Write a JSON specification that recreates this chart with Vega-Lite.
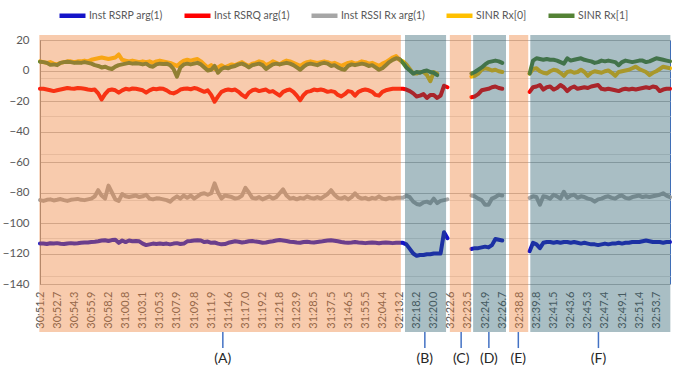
{
"$schema":"https://vega.github.io/schema/vega-lite/v6.json",
"width":630,"height":244,
"autosize":{"type":"none"},
"padding":{"left":40,"top":40,"right":8,"bottom":89},
"background":"white",
"config":{"font":"Lato","view":{"stroke":"#4472C4","strokeWidth":1}},
"datasets":{
"names":[{"k":"a","name":"Inst RSRP arg(1)"},{"k":"b","name":"Inst RSRQ arg(1)"},{"k":"c","name":"Inst RSSI Rx arg(1)"},{"k":"d","name":"SINR Rx[0]"},{"k":"e","name":"SINR Rx[1]"}],
"regions":[
{"r":"(A)","k":"o","x0":-0.2,"x1":105.4,"xm":53.4},
{"r":"(B)","k":"b","x0":106.6,"x1":118.6,"xm":112.4},
{"r":"(C)","k":"o","x0":119.7,"x1":125.9,"xm":123.0},
{"r":"(D)","k":"b","x0":126.5,"x1":136.1,"xm":131.1},
{"r":"(E)","k":"o","x0":137.0,"x1":142.6,"xm":139.7},
{"r":"(F)","k":"b","x0":143.2,"x1":184.1,"xm":163.1}],
"rows":[
{"t":"30:51.2","a":-113.5,"b":-12,"c":-85,"d":6,"e":5.8},
{"t":"30:51.5","a":-113.5,"b":-12,"c":-85.5,"d":5.5,"e":5.5},
{"t":"30:51.8","a":-113.8,"b":-12.5,"c":-84.8,"d":5,"e":5},
{"t":"30:52.1","a":-113.3,"b":-13,"c":-84.5,"d":5.5,"e":3.7},
{"t":"30:52.4","a":-113.5,"b":-13.5,"c":-85.2,"d":4.5,"e":4},
{"t":"30:52.7","a":-113.2,"b":-13,"c":-84.8,"d":4,"e":3.5},
{"t":"30:53.0","a":-113.6,"b":-12.5,"c":-84.3,"d":5,"e":5},
{"t":"30:53.3","a":-113.8,"b":-12,"c":-85,"d":5.5,"e":5.5},
{"t":"30:53.7","a":-113.4,"b":-11.5,"c":-85.5,"d":6,"e":5.8},
{"t":"30:54.0","a":-113.2,"b":-11.8,"c":-84.8,"d":6,"e":5.5},
{"t":"30:54.3","a":-113.5,"b":-12,"c":-84.5,"d":5.5,"e":5},
{"t":"30:54.6","a":-113.3,"b":-11.5,"c":-84.2,"d":6,"e":5.3},
{"t":"30:54.9","a":-113,"b":-11.7,"c":-84.8,"d":6,"e":5},
{"t":"30:55.3","a":-112.8,"b":-12,"c":-85,"d":6.5,"e":5.5},
{"t":"30:55.6","a":-112.8,"b":-12.5,"c":-84.5,"d":6,"e":5},
{"t":"30:55.9","a":-112.5,"b":-12.8,"c":-84,"d":7,"e":4.5},
{"t":"30:56.4","a":-112.3,"b":-12.5,"c":-82.5,"d":7.5,"e":3.5},
{"t":"30:56.8","a":-112,"b":-15,"c":-78.5,"d":8,"e":3},
{"t":"30:57.3","a":-111.5,"b":-19,"c":-82,"d":8.5,"e":2},
{"t":"30:57.7","a":-111.3,"b":-15.5,"c":-84,"d":8,"e":2.5},
{"t":"30:58.2","a":-111.8,"b":-13,"c":-75.5,"d":7.5,"e":1.5},
{"t":"30:58.7","a":-111.2,"b":-12.5,"c":-80,"d":8,"e":1},
{"t":"30:59.2","a":-111,"b":-13,"c":-84.5,"d":8.5,"e":2.5},
{"t":"30:59.8","a":-113,"b":-14.5,"c":-85.5,"d":10.5,"e":3.5},
{"t":"31:00.3","a":-111.5,"b":-13,"c":-81,"d":7,"e":4},
{"t":"31:00.8","a":-112.5,"b":-12,"c":-82.5,"d":6.5,"e":4.5},
{"t":"31:01.3","a":-111.5,"b":-12.5,"c":-83,"d":6,"e":5},
{"t":"31:01.7","a":-112,"b":-11.8,"c":-82.5,"d":6.5,"e":4.5},
{"t":"31:02.2","a":-111.8,"b":-12,"c":-82,"d":6,"e":4.8},
{"t":"31:02.6","a":-112,"b":-12.5,"c":-83,"d":5.5,"e":4.5},
{"t":"31:03.1","a":-113.5,"b":-13,"c":-82.5,"d":6,"e":4},
{"t":"31:03.5","a":-114.5,"b":-14.5,"c":-81.5,"d":5.5,"e":4.5},
{"t":"31:04.0","a":-114,"b":-13,"c":-84,"d":6,"e":3},
{"t":"31:04.4","a":-113.5,"b":-12,"c":-84.5,"d":5,"e":2.5},
{"t":"31:04.9","a":-113.8,"b":-12.3,"c":-83.8,"d":6,"e":4},
{"t":"31:05.3","a":-113.5,"b":-11.8,"c":-84,"d":6.5,"e":4.5},
{"t":"31:05.8","a":-113.8,"b":-12,"c":-84.5,"d":6,"e":4.3},
{"t":"31:06.3","a":-113.5,"b":-13,"c":-85,"d":5.5,"e":4.5},
{"t":"31:06.9","a":-114,"b":-14.5,"c":-86,"d":5,"e":3.5},
{"t":"31:07.4","a":-113.5,"b":-15,"c":-84,"d":4,"e":1},
{"t":"31:07.9","a":-113.2,"b":-14,"c":-82.5,"d":3,"e":-4},
{"t":"31:08.3","a":-113.8,"b":-12.5,"c":-84,"d":5,"e":2},
{"t":"31:08.7","a":-113.5,"b":-12,"c":-82,"d":6.5,"e":4},
{"t":"31:09.0","a":-112,"b":-11.8,"c":-83.5,"d":7,"e":4.5},
{"t":"31:09.4","a":-111.8,"b":-12.3,"c":-82,"d":6.5,"e":4},
{"t":"31:09.8","a":-111.5,"b":-11.5,"c":-84,"d":7,"e":4.5},
{"t":"31:10.2","a":-111.3,"b":-12,"c":-82.5,"d":7.5,"e":5},
{"t":"31:10.6","a":-111.5,"b":-13,"c":-81,"d":6,"e":4},
{"t":"31:11.1","a":-112.5,"b":-14,"c":-80.5,"d":4,"e":2},
{"t":"31:11.5","a":-112.2,"b":-13,"c":-81.5,"d":2,"e":0},
{"t":"31:11.9","a":-113,"b":-16,"c":-80.5,"d":3.5,"e":0.5},
{"t":"31:12.4","a":-112.8,"b":-20.5,"c":-74,"d":1,"e":3},
{"t":"31:13.0","a":-113.5,"b":-17,"c":-80,"d":2,"e":-1.5},
{"t":"31:13.5","a":-114,"b":-14,"c":-84,"d":3.5,"e":1},
{"t":"31:14.1","a":-113.8,"b":-13,"c":-82,"d":2,"e":2},
{"t":"31:14.6","a":-113,"b":-12.5,"c":-82.5,"d":3,"e":1.5},
{"t":"31:15.1","a":-112.5,"b":-13,"c":-83,"d":4,"e":2.5},
{"t":"31:15.6","a":-112,"b":-12.5,"c":-84,"d":3.5,"e":3},
{"t":"31:16.0","a":-112.3,"b":-14,"c":-83.5,"d":4.5,"e":4},
{"t":"31:16.5","a":-112.8,"b":-16,"c":-82,"d":5.5,"e":4.5},
{"t":"31:17.0","a":-112.5,"b":-17.5,"c":-77,"d":4,"e":3.5},
{"t":"31:17.4","a":-112,"b":-14.5,"c":-80,"d":3,"e":2},
{"t":"31:17.9","a":-111.8,"b":-13,"c":-83.5,"d":4.5,"e":3.5},
{"t":"31:18.3","a":-112.2,"b":-12.5,"c":-84,"d":5,"e":4},
{"t":"31:18.8","a":-112.5,"b":-13.5,"c":-83,"d":6,"e":4.5},
{"t":"31:19.2","a":-113,"b":-13,"c":-84.5,"d":5.5,"e":3.5},
{"t":"31:19.7","a":-112.8,"b":-12.5,"c":-83.5,"d":3.5,"e":1},
{"t":"31:20.2","a":-112.3,"b":-14,"c":-82.5,"d":4.5,"e":2.5},
{"t":"31:20.8","a":-112,"b":-13.5,"c":-84,"d":6,"e":4},
{"t":"31:21.3","a":-111.5,"b":-15,"c":-83,"d":5,"e":4.5},
{"t":"31:21.8","a":-111.2,"b":-16.5,"c":-80.5,"d":4,"e":4},
{"t":"31:22.2","a":-111.5,"b":-14,"c":-78,"d":5.5,"e":4.5},
{"t":"31:22.6","a":-111.8,"b":-13,"c":-82,"d":6.5,"e":5},
{"t":"31:23.1","a":-112.3,"b":-12.5,"c":-84,"d":6,"e":4.5},
{"t":"31:23.5","a":-112.5,"b":-14,"c":-83.5,"d":5,"e":3.5},
{"t":"31:23.9","a":-112.8,"b":-16.5,"c":-84.5,"d":4,"e":2},
{"t":"31:24.8","a":-113,"b":-19.5,"c":-83.5,"d":3,"e":0.5},
{"t":"31:25.7","a":-112.5,"b":-16,"c":-84,"d":4.5,"e":2.5},
{"t":"31:26.7","a":-112.3,"b":-14,"c":-82.5,"d":5.5,"e":4},
{"t":"31:27.6","a":-112.6,"b":-13.5,"c":-83.5,"d":6,"e":4.5},
{"t":"31:28.5","a":-112.8,"b":-12.5,"c":-84,"d":5.5,"e":4},
{"t":"31:30.3","a":-112.5,"b":-13,"c":-83,"d":5,"e":3.5},
{"t":"31:32.1","a":-112.2,"b":-12.5,"c":-84,"d":5.5,"e":4.5},
{"t":"31:33.9","a":-111.8,"b":-13,"c":-82.5,"d":6,"e":5},
{"t":"31:35.7","a":-111.5,"b":-14,"c":-81,"d":5.5,"e":4.5},
{"t":"31:37.5","a":-111.3,"b":-13.5,"c":-78.5,"d":4.5,"e":3},
{"t":"31:39.3","a":-111.6,"b":-14,"c":-81.5,"d":5,"e":3.5},
{"t":"31:41.1","a":-112,"b":-16,"c":-83.5,"d":4,"e":2},
{"t":"31:42.9","a":-112.5,"b":-17,"c":-84,"d":3,"e":1},
{"t":"31:44.7","a":-112.8,"b":-15.5,"c":-83,"d":4,"e":0.5},
{"t":"31:46.5","a":-113,"b":-13.5,"c":-84.5,"d":5,"e":3},
{"t":"31:48.3","a":-112.8,"b":-14,"c":-83,"d":5.5,"e":4},
{"t":"31:50.1","a":-112.5,"b":-16.5,"c":-80.5,"d":4.5,"e":3.5},
{"t":"31:51.9","a":-112.8,"b":-14,"c":-83,"d":5,"e":4},
{"t":"31:53.7","a":-113,"b":-13,"c":-84,"d":6,"e":4.5},
{"t":"31:55.5","a":-113.2,"b":-12.5,"c":-83.5,"d":5.5,"e":4},
{"t":"31:57.3","a":-113,"b":-13,"c":-84.5,"d":4.5,"e":3},
{"t":"31:59.1","a":-112.8,"b":-14,"c":-83.5,"d":5,"e":3.5},
{"t":"32:00.8","a":-113,"b":-16,"c":-84,"d":4,"e":2},
{"t":"32:02.6","a":-113.3,"b":-16.5,"c":-82.5,"d":3,"e":0.5},
{"t":"32:04.4","a":-113,"b":-14,"c":-84,"d":4.5,"e":1.5},
{"t":"32:06.2","a":-112.8,"b":-13,"c":-84.5,"d":5.5,"e":3.5},
{"t":"32:07.9","a":-113,"b":-12.5,"c":-83.5,"d":7,"e":5.5},
{"t":"32:09.7","a":-113.2,"b":-12,"c":-84,"d":8.5,"e":7},
{"t":"32:11.4","a":-113,"b":-12,"c":-83.5,"d":9.5,"e":8},
{"t":"32:13.2","a":-113,"b":-12,"c":-83.5,"d":7,"e":7.5},
{"t":"32:14.2","a":-113,"b":-12,"c":-83.5,"d":6,"e":5},
{"t":"32:15.2","a":-114,"b":-12.5,"c":-82,"d":4,"e":2},
{"t":"32:16.2","a":-117,"b":-13.5,"c":-83,"d":1,"e":0},
{"t":"32:17.2","a":-120,"b":-15,"c":-86,"d":-2,"e":-2},
{"t":"32:18.2","a":-121.5,"b":-17,"c":-87.5,"d":-2,"e":-1},
{"t":"32:18.6","a":-121,"b":-16.5,"c":-88,"d":-1,"e":-1.5},
{"t":"32:18.9","a":-121,"b":-15.5,"c":-86.5,"d":-1,"e":-0.5},
{"t":"32:19.3","a":-120.5,"b":-18,"c":-86,"d":-3,"e":0},
{"t":"32:19.6","a":-120.5,"b":-16,"c":-87,"d":-7,"e":-1},
{"t":"32:20.0","a":-120,"b":-16,"c":-84,"d":-1,"e":-1.5},
{"t":"32:20.5","a":-120,"b":-18,"c":-87,"d":-2,"e":-3},
{"t":"32:21.0","a":-120,"b":-16.5,"c":-85.5,"d":null,"e":null},
{"t":"32:21.6","a":-106,"b":-10,"c":-85,"d":null,"e":null},
{"t":"32:22.1","a":-110,"b":-11,"c":-84.5,"d":null,"e":null},
{"t":"32:22.6","a":null,"b":null,"c":null,"d":null,"e":null},
{"t":"32:22.8","a":null,"b":null,"c":null,"d":null,"e":null},
{"t":"32:22.9","a":null,"b":null,"c":null,"d":null,"e":null},
{"t":"32:23.1","a":null,"b":null,"c":null,"d":null,"e":null},
{"t":"32:23.3","a":null,"b":null,"c":null,"d":null,"e":null},
{"t":"32:23.5","a":null,"b":null,"c":null,"d":null,"e":null},
{"t":"32:23.8","a":-117,"b":-17.5,"c":-82,"d":-4,"e":-2},
{"t":"32:24.1","a":-116.5,"b":-17,"c":-82.5,"d":-3.5,"e":-1},
{"t":"32:24.3","a":-116.5,"b":-15.5,"c":-84,"d":-2,"e":0.5},
{"t":"32:24.6","a":-116,"b":-13,"c":-85,"d":0.5,"e":2},
{"t":"32:24.9","a":-115.5,"b":-12.5,"c":-88,"d":1.5,"e":4},
{"t":"32:25.3","a":-116,"b":-12,"c":-88,"d":1,"e":5.5},
{"t":"32:25.6","a":-114.5,"b":-11,"c":-84,"d":0,"e":6},
{"t":"32:26.0","a":-110.5,"b":-10.5,"c":-83,"d":0.5,"e":6.5},
{"t":"32:26.3","a":-111,"b":-11.5,"c":-81.5,"d":-0.5,"e":6},
{"t":"32:26.7","a":-111.5,"b":-12,"c":-82,"d":-1,"e":5},
{"t":"32:29.1","a":null,"b":null,"c":null,"d":null,"e":null},
{"t":"32:31.5","a":null,"b":null,"c":null,"d":null,"e":null},
{"t":"32:34.0","a":null,"b":null,"c":null,"d":null,"e":null},
{"t":"32:36.4","a":null,"b":null,"c":null,"d":null,"e":null},
{"t":"32:38.8","a":null,"b":null,"c":null,"d":null,"e":null},
{"t":"32:39.0","a":null,"b":null,"c":null,"d":null,"e":null},
{"t":"32:39.2","a":null,"b":null,"c":null,"d":null,"e":null},
{"t":"32:39.4","a":-118.5,"b":-14,"c":-83.5,"d":-2,"e":-2},
{"t":"32:39.6","a":-113,"b":-11,"c":-82.5,"d":1,"e":6.5},
{"t":"32:39.8","a":-114,"b":-10.5,"c":-83,"d":1.5,"e":8},
{"t":"32:40.1","a":-116.5,"b":-9.5,"c":-88,"d":-0.5,"e":7.5},
{"t":"32:40.5","a":-113,"b":-12.5,"c":-82.5,"d":-1.5,"e":7},
{"t":"32:40.8","a":-112.5,"b":-11,"c":-83,"d":-2,"e":7.5},
{"t":"32:41.2","a":-112.5,"b":-10.5,"c":-84,"d":-0.5,"e":7},
{"t":"32:41.5","a":-113,"b":-12.5,"c":-81.5,"d":0.5,"e":7},
{"t":"32:41.9","a":-112.5,"b":-11.5,"c":-82.5,"d":0,"e":6.5},
{"t":"32:42.3","a":-113,"b":-9.5,"c":-84,"d":-1.5,"e":5.5},
{"t":"32:42.8","a":-112.5,"b":-11,"c":-79.5,"d":-3.5,"e":4.5},
{"t":"32:43.2","a":-112.5,"b":-13.5,"c":-83.5,"d":-1,"e":8},
{"t":"32:43.6","a":-113,"b":-11.5,"c":-82,"d":-0.5,"e":6.5},
{"t":"32:43.9","a":-112.5,"b":-10.5,"c":-81.5,"d":-1.5,"e":7},
{"t":"32:44.3","a":-113,"b":-12,"c":-83.5,"d":-1,"e":7.5},
{"t":"32:44.6","a":-113.5,"b":-11.5,"c":-82.5,"d":0.5,"e":8},
{"t":"32:45.0","a":-113,"b":-11,"c":-83,"d":-1,"e":7},
{"t":"32:45.3","a":-113.5,"b":-11.5,"c":-84,"d":-3.5,"e":6.5},
{"t":"32:45.7","a":-114,"b":-10.5,"c":-84.5,"d":-1.5,"e":6},
{"t":"32:46.1","a":-114,"b":-10,"c":-86,"d":-0.5,"e":5},
{"t":"32:46.6","a":-114.5,"b":-9.5,"c":-84.5,"d":-1,"e":5.5},
{"t":"32:47.0","a":-114,"b":-12,"c":-84,"d":-1.5,"e":6.5},
{"t":"32:47.4","a":-113.5,"b":-12.5,"c":-83,"d":-0.5,"e":6},
{"t":"32:47.7","a":-114,"b":-12,"c":-82.5,"d":0,"e":6.5},
{"t":"32:48.1","a":-113.5,"b":-12.5,"c":-83.5,"d":-1.5,"e":6},
{"t":"32:48.4","a":-113.5,"b":-13,"c":-84,"d":-3.5,"e":5.5},
{"t":"32:48.8","a":-113,"b":-13.5,"c":-82.5,"d":-1,"e":3.5},
{"t":"32:49.1","a":-113.5,"b":-12.5,"c":-82,"d":-0.5,"e":5.5},
{"t":"32:49.6","a":-113,"b":-12,"c":-83.5,"d":0,"e":6.5},
{"t":"32:50.0","a":-113,"b":-12.5,"c":-84,"d":0.5,"e":6},
{"t":"32:50.5","a":-112.5,"b":-12,"c":-83,"d":1.5,"e":5.5},
{"t":"32:50.9","a":-112.5,"b":-12.5,"c":-82.5,"d":2.5,"e":6},
{"t":"32:51.4","a":-112.5,"b":-12,"c":-82,"d":1,"e":6.5},
{"t":"32:51.9","a":-112,"b":-11.5,"c":-83,"d":0,"e":6.5},
{"t":"32:52.3","a":-111.5,"b":-11,"c":-82.5,"d":-1,"e":5.5},
{"t":"32:52.8","a":-112,"b":-11.5,"c":-83,"d":-3,"e":6},
{"t":"32:53.2","a":-112.5,"b":-10.5,"c":-82.5,"d":-1.5,"e":7},
{"t":"32:53.7","a":-112.5,"b":-11,"c":-82,"d":-0.5,"e":8},
{"t":"32:54.2","a":-112.5,"b":-13.5,"c":-81.5,"d":1,"e":7.5},
{"t":"32:54.6","a":-113,"b":-12.5,"c":-80.5,"d":2.5,"e":7},
{"t":"32:55.1","a":-112.5,"b":-12,"c":-82,"d":2,"e":6.5},
{"t":"32:55.5","a":-112.5,"b":-12,"c":-83,"d":1.5,"e":6}
]},
"layer":[
{"data":{"name":"rows"},
 "transform":[
  {"fold":["a","b","c","d","e"],"as":["k","v"]},
  {"lookup":"k","from":{"data":{"name":"names"},"key":"k","fields":["name"]}}
 ],
 "mark":{"type":"line","strokeWidth":4,"strokeCap":"round","strokeJoin":"round","invalid":"break-paths-show-domains"},
 "encoding":{
  "x":{"field":"t","type":"ordinal","sort":null,"scale":{"type":"point","padding":0},
   "axis":{"values":["30:51.2","30:52.7","30:54.3","30:55.9","30:58.2","31:00.8","31:03.1","31:05.3","31:07.9","31:09.8","31:11.9","31:14.6","31:17.0","31:19.2","31:21.8","31:23.9","31:28.5","31:37.5","31:46.5","31:55.5","32:04.4","32:13.2","32:18.2","32:20.0","32:22.6","32:23.5","32:24.9","32:26.7","32:38.8","32:39.8","32:41.5","32:43.6","32:45.3","32:47.4","32:49.1","32:51.4","32:53.7"],
   "labelAngle":-90,"title":null,"ticks":false,"grid":false,"labelPadding":7,"labelOverlap":false,"domainColor":"#BFBFBF","labelColor":"#595959","labelFontSize":11,"labelFont":"Lato"}},
  "y":{"field":"v","type":"quantitative","scale":{"domain":[-140,20],"nice":false,"zero":false},
   "axis":{"values":[-140,-120,-100,-80,-60,-40,-20,0,20],"title":null,"ticks":false,"labelPadding":11,"gridColor":"#C0C0C0","domainColor":"#909090","labelColor":"#595959","labelFontSize":11.5,"labelFont":"Lato"}},
  "color":{"field":"name","type":"nominal",
   "scale":{"domain":["Inst RSRP arg(1)","Inst RSRQ arg(1)","Inst RSSI Rx arg(1)","SINR Rx[0]","SINR Rx[1]"],"range":["#1414C8","#FF0000","#A6A6A6","#FFC000","#548235"]},
   "legend":{"orient":"none","legendX":17,"legendY":-40,"direction":"horizontal","title":null,"symbolType":"stroke","symbolSize":676,"symbolStrokeWidth":4.5,"labelFontSize":10.5,"labelColor":"#595959","labelFont":"Lato","columnPadding":12,"labelOffset":1,"padding":0}}
 }},
{"data":{"name":"regions"},
 "encoding":{"x":{"field":"x0","type":"quantitative","scale":{"domain":[0,184],"nice":false,"zero":false},"axis":null}},
 "layer":[
  {"mark":{"type":"rect","opacity":0.4},
   "encoding":{
    "x2":{"field":"x1"},
    "y":{"datum":23.3,"type":"quantitative","scale":{"domain":[-140,20],"nice":false,"zero":false},
     "axis":{"orient":"left","values":[-135,-130,-125,-115,-110,-105,-95,-90,-85,-75,-70,-65,-55,-50,-45,-35,-30,-25,-15,-10,-5,5,10,15],"grid":true,"gridColor":"#E3E3E3","labels":false,"ticks":false,"domain":false,"title":null}},
    "y2":{"datum":-171.5},
    "fill":{"field":"k","type":"nominal","scale":{"domain":["o","b"],"range":["#ED7D31","#285C6B"]},"legend":null}}},
  {"mark":{"type":"rule","color":"#4472C4","strokeWidth":1.5},
   "encoding":{"x":{"field":"xm","type":"quantitative"},"y":{"datum":-171.5},"y2":{"datum":-182}}},
  {"mark":{"type":"text","fontSize":14,"font":"Lato","color":"#262626","baseline":"middle"},
   "encoding":{"x":{"field":"xm","type":"quantitative"},"y":{"datum":-189.2},"text":{"field":"r"}}}
 ]}
],
"resolve":{"scale":{"x":"independent","y":"independent"}}
}
